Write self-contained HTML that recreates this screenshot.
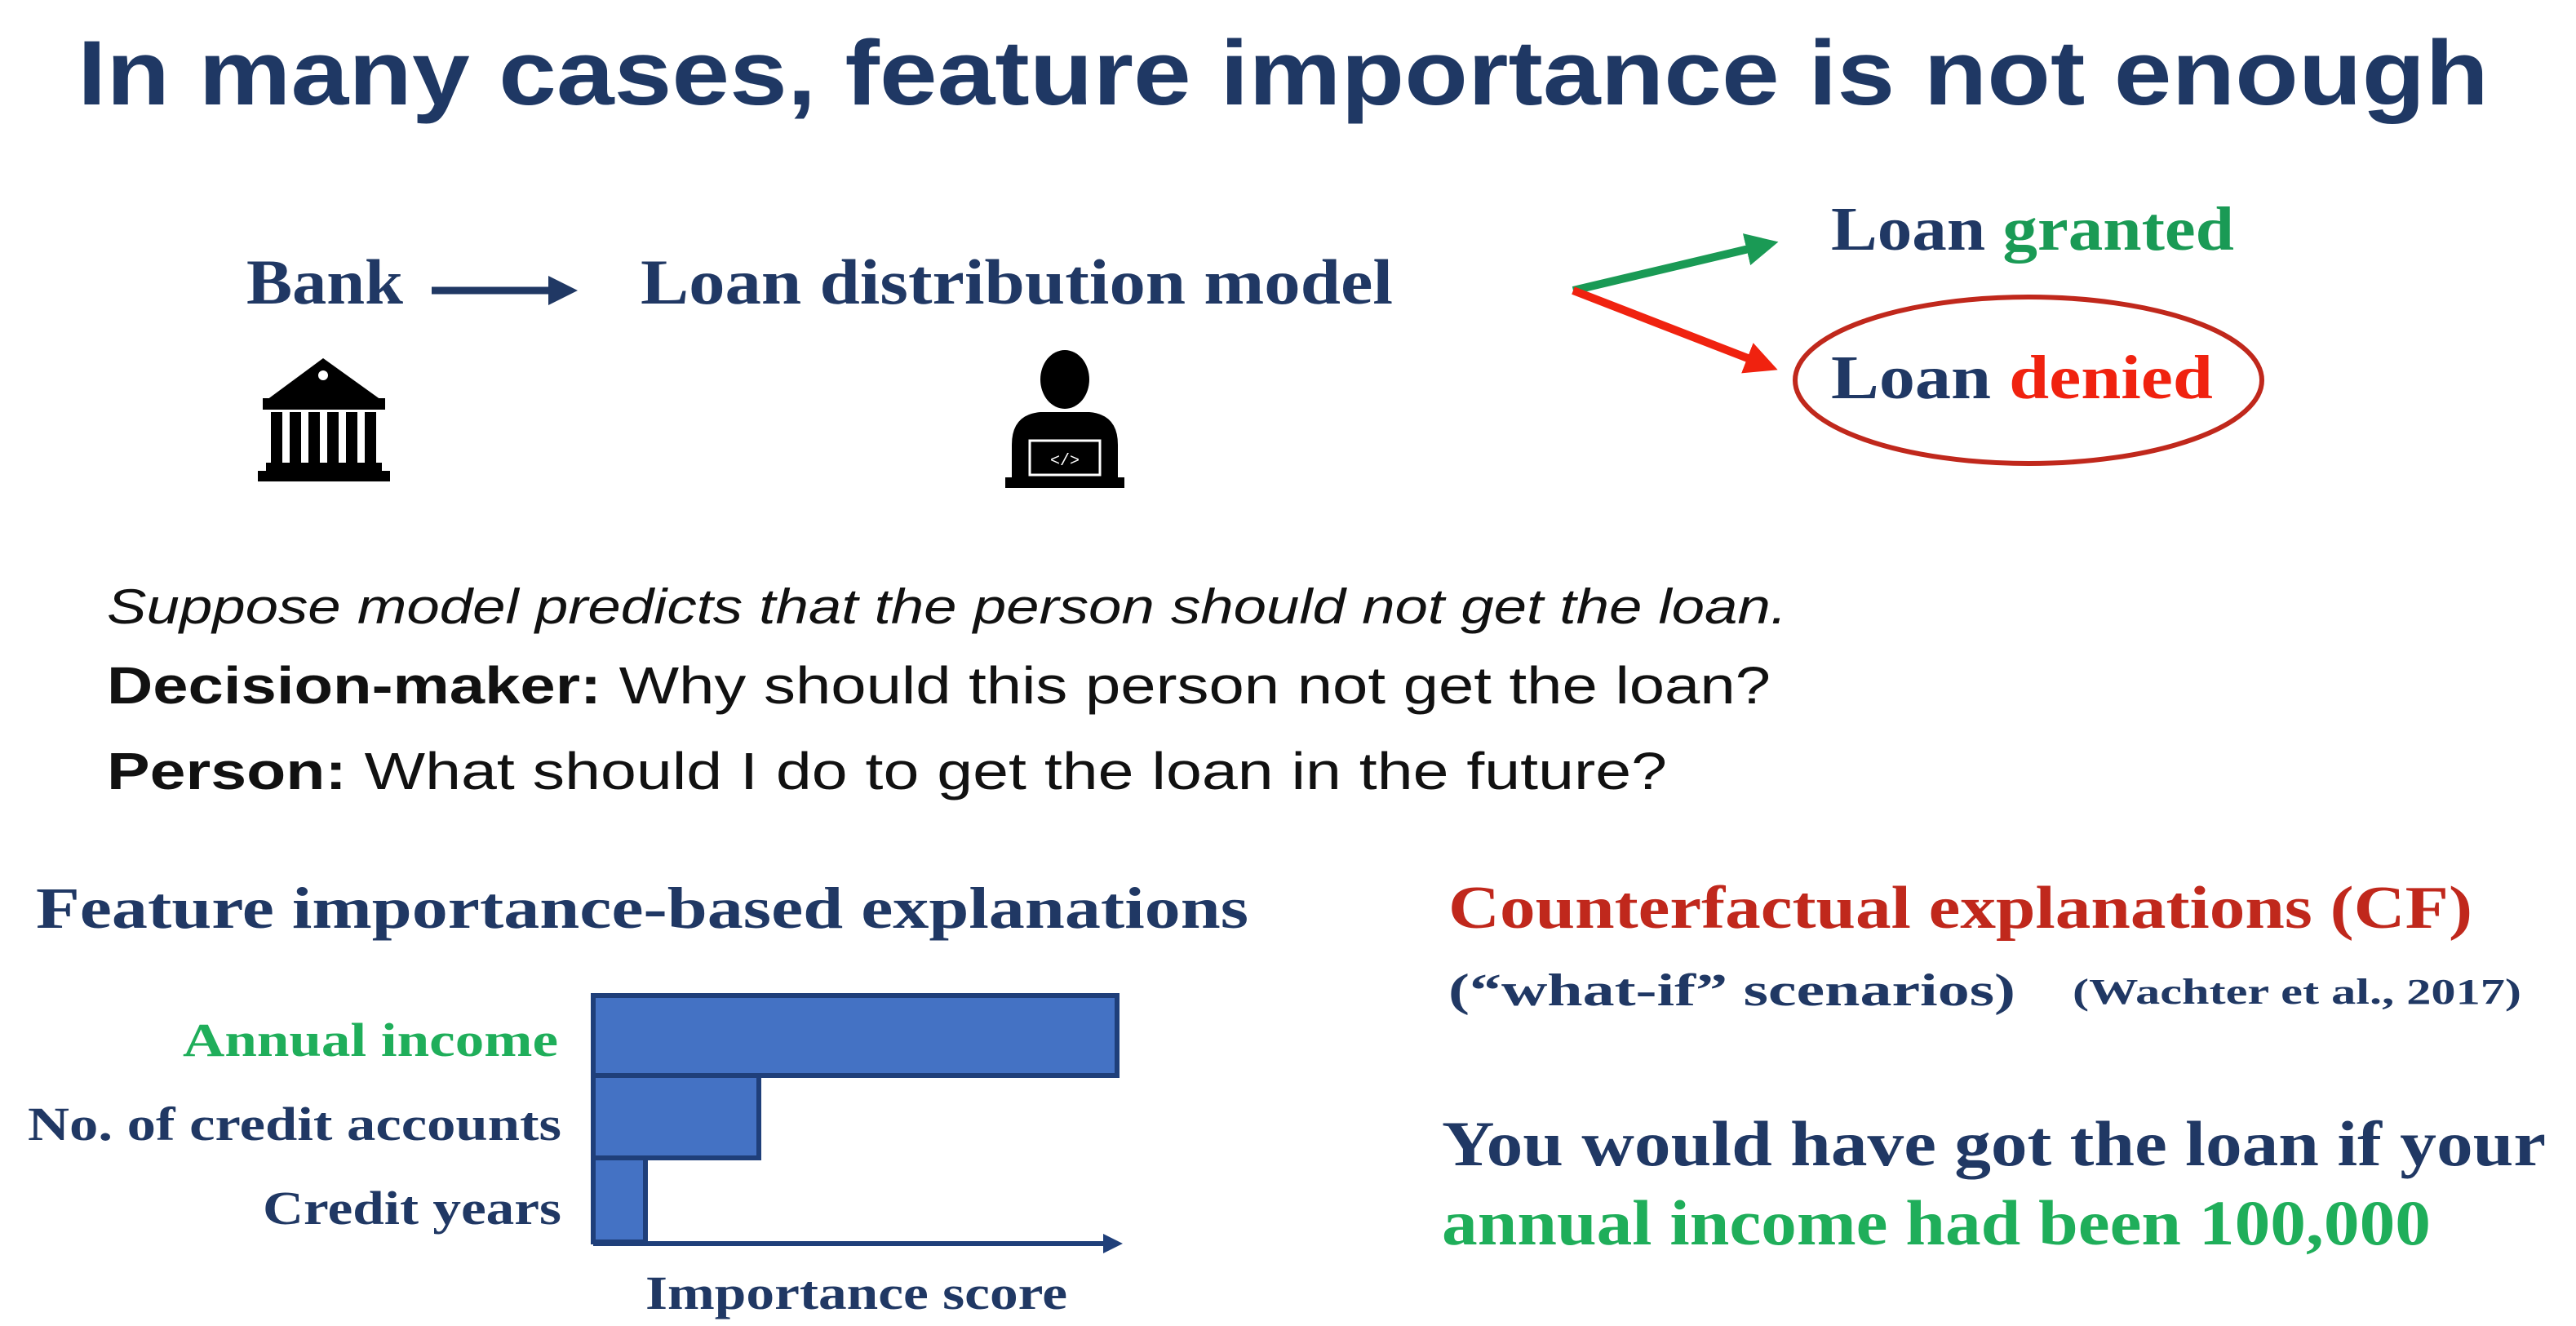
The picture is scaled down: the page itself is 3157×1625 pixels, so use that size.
<!DOCTYPE html>
<html><head><meta charset="utf-8"><style>
html,body{margin:0;padding:0;background:#fff;}
svg{display:block;}
.serif{font-family:"Liberation Serif",serif;font-weight:bold;}
.sans{font-family:"Liberation Sans",sans-serif;}
</style></head><body>
<svg width="3157" height="1625" viewBox="0 0 3157 1625" xmlns="http://www.w3.org/2000/svg">
<defs>
<marker id="mn" markerWidth="4" markerHeight="4" refX="2" refY="2" orient="auto"><path d="M0,0 L4,2 L0,4 z" fill="#203864"/></marker>
<marker id="mg" markerWidth="4" markerHeight="4" refX="2" refY="2" orient="auto"><path d="M0,0 L4,2 L0,4 z" fill="#1a9a55"/></marker>
<marker id="mr" markerWidth="4" markerHeight="4" refX="2" refY="2" orient="auto"><path d="M0,0 L4,2 L0,4 z" fill="#f0220f"/></marker>
</defs>
<!-- title -->
<text x="95" y="128" class="sans" font-weight="bold" font-size="112" fill="#1f3864" textLength="2955" lengthAdjust="spacingAndGlyphs">In many cases, feature importance is not enough</text>

<!-- top flow -->
<text x="302" y="372" class="serif" font-size="78" fill="#203864" textLength="192" lengthAdjust="spacingAndGlyphs">Bank</text>
<line x1="529" y1="356" x2="690" y2="356" stroke="#203864" stroke-width="9" marker-end="url(#mn)"/>
<text x="785" y="372" class="serif" font-size="78" fill="#203864" textLength="922" lengthAdjust="spacingAndGlyphs">Loan distribution model</text>

<!-- bank icon -->
<g fill="#000">
<polygon points="396,439 327,490 467,490"/>
<rect x="322" y="488" width="150" height="14"/>
<rect x="332" y="505" width="14" height="62"/>
<rect x="355" y="505" width="14" height="62"/>
<rect x="378" y="505" width="14" height="62"/>
<rect x="401" y="505" width="14" height="62"/>
<rect x="424" y="505" width="14" height="62"/>
<rect x="447" y="505" width="14" height="62"/>
<rect x="326" y="567" width="142" height="10"/>
<rect x="316" y="577" width="162" height="13"/>
</g>
<circle cx="396" cy="460" r="6" fill="#fff"/>

<!-- person icon -->
<g fill="#000">
<ellipse cx="1305" cy="465" rx="30" ry="36"/>
<path d="M1240,598 L1240,545 Q1240,508 1275,505 L1335,505 Q1370,508 1370,545 L1370,598 z"/>
<rect x="1232" y="585" width="146" height="13"/>
</g>
<rect x="1262" y="540" width="86" height="42" fill="none" stroke="#fff" stroke-width="3"/>
<text x="1305" y="570" font-family="Liberation Mono,monospace" font-size="20" fill="#fff" text-anchor="middle">&lt;/&gt;</text>

<!-- outcome arrows -->
<line x1="1928" y1="356" x2="2160" y2="301" stroke="#1a9a55" stroke-width="10" marker-end="url(#mg)"/>
<line x1="1928" y1="356" x2="2160" y2="446" stroke="#f0220f" stroke-width="10" marker-end="url(#mr)"/>
<text x="2244" y="306" class="serif" font-size="76" textLength="494" lengthAdjust="spacingAndGlyphs"><tspan fill="#203864">Loan </tspan><tspan fill="#1a9a55">granted</tspan></text>
<ellipse cx="2486" cy="466" rx="286" ry="102" fill="none" stroke="#c0281c" stroke-width="6"/>
<text x="2244" y="488" class="serif" font-size="76" textLength="468" lengthAdjust="spacingAndGlyphs"><tspan fill="#203864">Loan </tspan><tspan fill="#f0220f">denied</tspan></text>

<!-- questions -->
<text x="131" y="764" class="sans" font-style="italic" font-size="60" fill="#111" textLength="2059" lengthAdjust="spacingAndGlyphs">Suppose model predicts that the person should not get the loan.</text>
<text x="131" y="862" class="sans" font-size="64" fill="#111" textLength="2039" lengthAdjust="spacingAndGlyphs"><tspan font-weight="bold">Decision-maker:</tspan> Why should this person not get the loan?</text>
<text x="131" y="967" class="sans" font-size="64" fill="#111" textLength="1912" lengthAdjust="spacingAndGlyphs"><tspan font-weight="bold">Person:</tspan> What should I do to get the loan in the future?</text>

<!-- left: feature importance -->
<text x="44" y="1137" class="serif" font-size="72" fill="#203864" textLength="1486" lengthAdjust="spacingAndGlyphs">Feature importance-based explanations</text>
<text x="684" y="1294" class="serif" font-size="58" fill="#1fae5a" text-anchor="end" textLength="460" lengthAdjust="spacingAndGlyphs">Annual income</text>
<text x="688" y="1397" class="serif" font-size="58" fill="#203864" text-anchor="end" textLength="654" lengthAdjust="spacingAndGlyphs">No. of credit accounts</text>
<text x="688" y="1500" class="serif" font-size="58" fill="#203864" text-anchor="end" textLength="366" lengthAdjust="spacingAndGlyphs">Credit years</text>
<g fill="#4472c4" stroke="#1f3f7a" stroke-width="6">
<rect x="727" y="1220" width="642" height="98"/>
<rect x="727" y="1318" width="203" height="101"/>
<rect x="727" y="1419" width="64" height="103"/>
</g>
<line x1="727" y1="1524" x2="1355" y2="1524" stroke="#1f3f7a" stroke-width="6"/>
<path d="M1352,1512 L1376,1524 L1352,1536 z" fill="#1f3f7a"/>
<text x="791" y="1604" class="serif" font-size="58" fill="#203864" textLength="517" lengthAdjust="spacingAndGlyphs">Importance score</text>

<!-- right: counterfactual -->
<text x="1775" y="1137" class="serif" font-size="74" fill="#c0281c" textLength="1255" lengthAdjust="spacingAndGlyphs">Counterfactual explanations (CF)</text>
<text x="1775" y="1232" class="serif" font-size="56" fill="#203864" textLength="695" lengthAdjust="spacingAndGlyphs">(“what-if” scenarios)</text>
<text x="2540" y="1230" class="serif" font-size="44" fill="#203864" textLength="550" lengthAdjust="spacingAndGlyphs">(Wachter et al., 2017)</text>
<text x="1767" y="1428" class="serif" font-size="78" fill="#203864" textLength="1353" lengthAdjust="spacingAndGlyphs">You would have got the loan if your</text>
<text x="1767" y="1525" class="serif" font-size="78" fill="#1fae5a" textLength="1212" lengthAdjust="spacingAndGlyphs">annual income had been 100,000</text>
</svg>
</body></html>
